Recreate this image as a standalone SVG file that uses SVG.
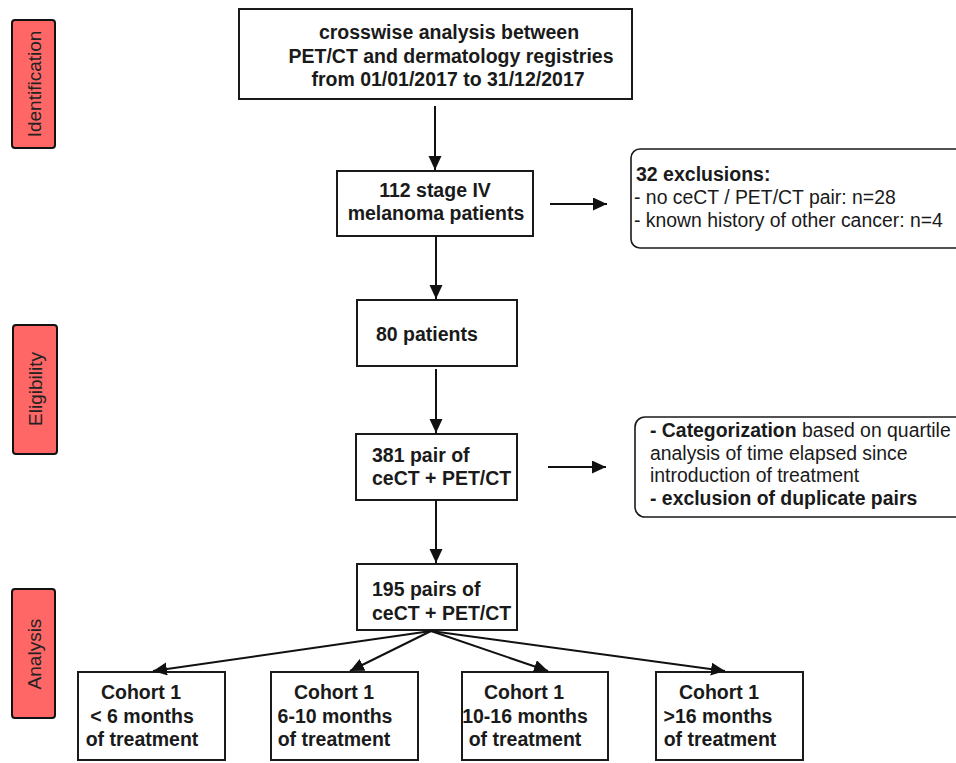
<svg xmlns="http://www.w3.org/2000/svg" width="956" height="763" viewBox="0 0 956 763">
<style>
.box{fill:#fff;stroke:#1a1a1a;stroke-width:2}
.phase{fill:#ff6666;stroke:#111;stroke-width:2}
.rbox{fill:#fff;stroke:#1a1a1a;stroke-width:1.6}
text{font-family:"Liberation Sans",Arial,sans-serif;fill:#1a1a1a}
.b{font-weight:bold;font-size:19.5px}
.r{font-size:19.4px}
.ph{font-size:19px;fill:#222}
.c{fill:none;stroke:#111;stroke-width:2}
</style>
<defs>
<marker id="ah" markerUnits="userSpaceOnUse" markerWidth="15" markerHeight="14" refX="14" refY="6.5" orient="auto">
<path d="M0,0 L14,6.5 L0,13 z" fill="#111"/>
</marker>
</defs>
<g id="phase-identification"><rect class="phase" x="12" y="20" width="43" height="128" rx="3"/><text class="ph" text-anchor="middle" transform="translate(34,84) rotate(-90)" dy="0.35em">Identification</text></g>
<g id="phase-eligibility"><rect class="phase" x="13" y="325" width="44" height="129" rx="3"/><text class="ph" text-anchor="middle" transform="translate(35,389) rotate(-90)" dy="0.35em">Eligibility</text></g>
<g id="phase-analysis"><rect class="phase" x="12" y="589" width="43" height="129" rx="3"/><text class="ph" text-anchor="middle" transform="translate(34,654) rotate(-90)" dy="0.35em">Analysis</text></g>

<g id="n-registries"><rect class="box" x="239" y="9" width="393" height="90"/>
<text class="b" text-anchor="middle" x="449" y="39">crosswise analysis between</text>
<text class="b" text-anchor="middle" x="451" y="63">PET/CT and dermatology registries</text>
<text class="b" text-anchor="middle" x="448" y="86">from 01/01/2017 to 31/12/2017</text></g>

<g id="n-112"><rect class="box" x="337" y="171" width="196" height="65"/>
<text class="b" text-anchor="middle" x="435" y="197">112 stage IV</text>
<text class="b" text-anchor="middle" x="436" y="220">melanoma patients</text></g>

<g id="n-exclusions"><rect class="rbox" x="631" y="149" width="335" height="99" rx="9"/>
<text class="b" x="636" y="181">32 exclusions:</text>
<text class="r" x="634" y="204">- no ceCT / PET/CT pair: n=28</text>
<text class="r" x="634" y="227">- known history of other cancer: n=4</text></g>

<g id="n-80"><rect class="box" x="357" y="300" width="160" height="66"/>
<text class="b" x="376" y="341">80 patients</text></g>

<g id="n-381"><rect class="box" x="356" y="434" width="161" height="66"/>
<text class="b" x="372" y="462">381 pair of</text>
<text class="b" x="372" y="485">ceCT + PET/CT</text></g>

<g id="n-categorization"><rect class="rbox" x="635" y="417" width="335" height="100" rx="10"/>
<text class="r" x="650" y="437"><tspan font-weight="bold">- Categorization</tspan> based on quartile</text>
<text class="r" x="650" y="460">analysis of time elapsed since</text>
<text class="r" x="650" y="482">introduction of treatment</text>
<text class="r" x="650" y="505" font-weight="bold">- exclusion of duplicate pairs</text></g>

<g id="n-195"><rect class="box" x="357" y="564" width="160" height="66"/>
<text class="b" x="372" y="596">195 pairs of</text>
<text class="b" x="372" y="620">ceCT + PET/CT</text></g>

<g id="n-cohort-a"><rect class="box" x="78" y="672" width="147" height="88"/>
<text class="b" text-anchor="middle" x="141" y="699">Cohort 1</text>
<text class="b" text-anchor="middle" x="142" y="723">&lt; 6 months</text>
<text class="b" text-anchor="middle" x="142" y="746">of treatment</text></g>

<g id="n-cohort-b"><rect class="box" x="271" y="672" width="147" height="88"/>
<text class="b" text-anchor="middle" x="334" y="699">Cohort 1</text>
<text class="b" text-anchor="middle" x="335" y="723">6-10 months</text>
<text class="b" text-anchor="middle" x="334" y="746">of treatment</text></g>

<g id="n-cohort-c"><rect class="box" x="462" y="672" width="146" height="88"/>
<text class="b" text-anchor="middle" x="524" y="699">Cohort 1</text>
<text class="b" text-anchor="middle" x="525" y="723">10-16 months</text>
<text class="b" text-anchor="middle" x="525" y="746">of treatment</text></g>

<g id="n-cohort-d"><rect class="box" x="656" y="672" width="147" height="88"/>
<text class="b" text-anchor="middle" x="719" y="699">Cohort 1</text>
<text class="b" text-anchor="middle" x="718" y="723">&gt;16 months</text>
<text class="b" text-anchor="middle" x="720" y="746">of treatment</text></g>

<g id="connectors">
<line class="c" x1="435" y1="106" x2="435" y2="170" marker-end="url(#ah)"/>
<line class="c" x1="550" y1="204" x2="607" y2="204" marker-end="url(#ah)"/>
<line class="c" x1="436" y1="236" x2="436" y2="299" marker-end="url(#ah)"/>
<line class="c" x1="436" y1="369" x2="436" y2="433" marker-end="url(#ah)"/>
<line class="c" x1="548" y1="467" x2="606" y2="467" marker-end="url(#ah)"/>
<line class="c" x1="436" y1="500" x2="436" y2="563" marker-end="url(#ah)"/>
<line class="c" x1="431" y1="631" x2="153" y2="671" marker-end="url(#ah)"/>
<line class="c" x1="431" y1="631" x2="350" y2="671" marker-end="url(#ah)"/>
<line class="c" x1="431" y1="631" x2="548" y2="671" marker-end="url(#ah)"/>
<line class="c" x1="431" y1="631" x2="725" y2="671" marker-end="url(#ah)"/>
</g>
</svg>
